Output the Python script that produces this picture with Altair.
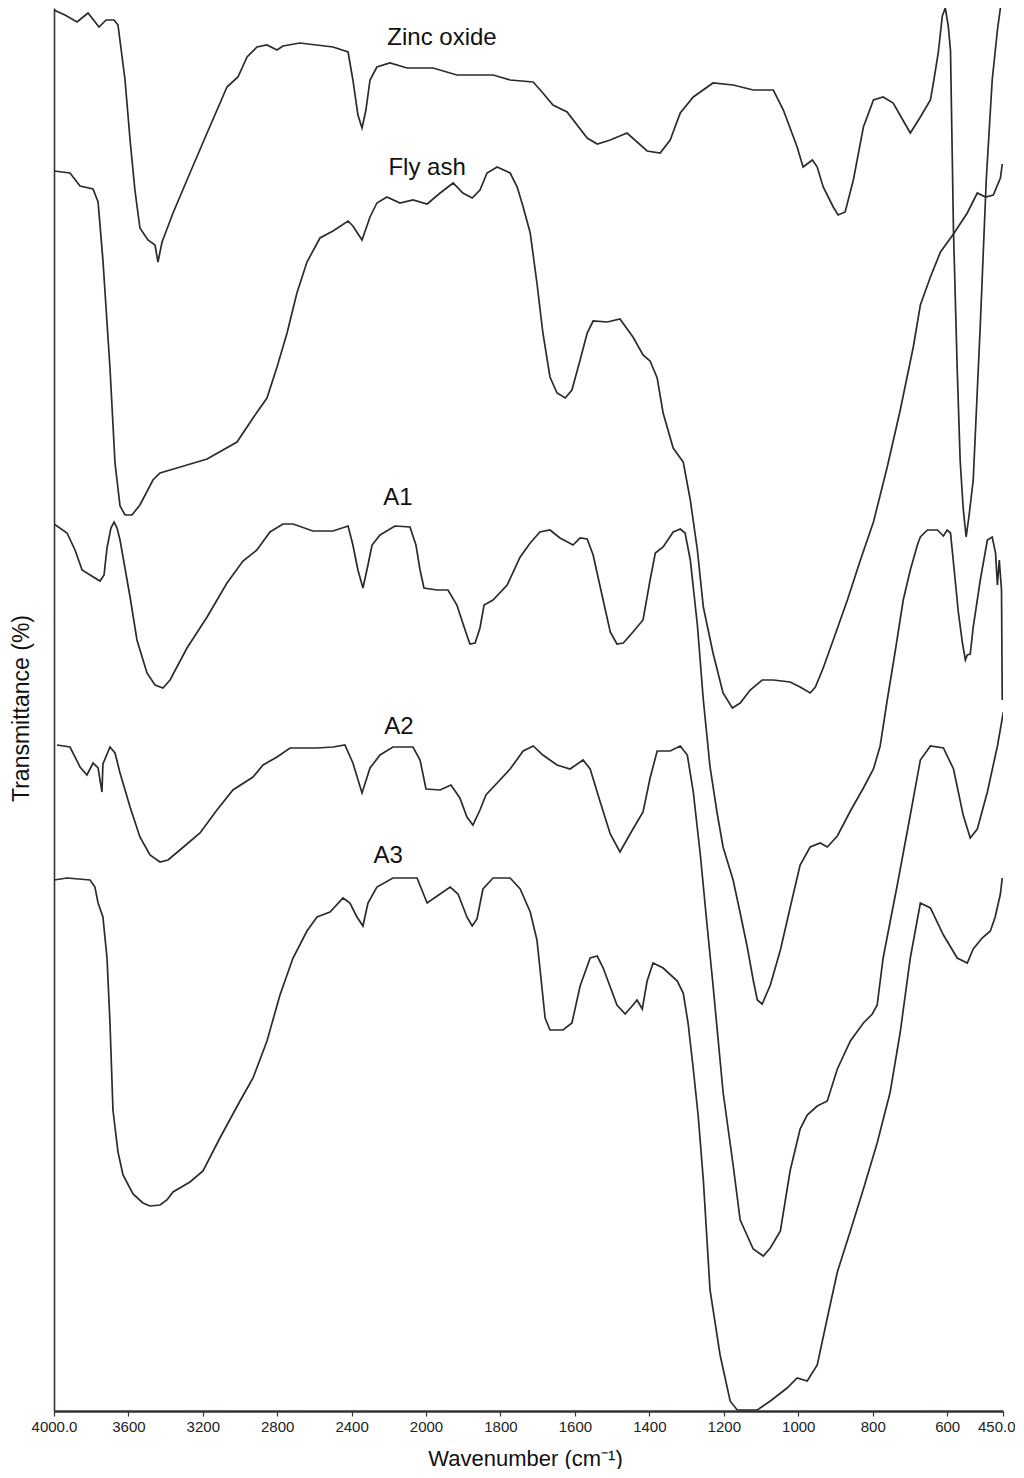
import altair as alt
import pandas as pd

# ---- data (wavenumber in cm-1, transmittance in arbitrary units) ----
zno_wn = [4000, 3941, 3876, 3817, 3758, 3720, 3677, 3656, 3618, 3591, 3565, 3538, 3495, 3457, 3441, 3419,
          3360, 3269, 3177, 3070, 3011, 2962, 2909, 2855, 2801, 2769, 2678, 2500, 2419, 2393, 2366, 2344,
          2323, 2301, 2264, 2194, 2102, 1981, 1917, 1820, 1774, 1712, 1686, 1659, 1621, 1567, 1540, 1505,
          1460, 1406, 1371, 1344, 1317, 1282, 1229, 1175, 1121, 1067, 1040, 1003, 987, 962, 949, 933, 906,
          893, 874, 852, 825, 798, 772, 745, 699, 672, 645, 637, 624, 613, 605, 597, 591, 583, 573, 565,
          557, 549, 541, 530, 511, 495, 479, 465, 454]
zno_t = [1401, 1396, 1389, 1398, 1384, 1391, 1391, 1386, 1331, 1271, 1221, 1183, 1171, 1166, 1149, 1169,
         1198, 1238, 1278, 1324, 1334, 1354, 1364, 1366, 1361, 1365, 1368, 1364, 1359, 1331, 1296, 1283,
         1301, 1331, 1344, 1348, 1343, 1343, 1336, 1336, 1331, 1329, 1318, 1306, 1299, 1273, 1267, 1271,
         1278, 1260, 1258, 1271, 1298, 1314, 1328, 1326, 1321, 1321, 1301, 1264, 1244, 1251, 1244, 1224, 1204,
         1196, 1199, 1231, 1284, 1311, 1314, 1308, 1278, 1294, 1311, 1328, 1358, 1395, 1403, 1385, 1360, 1180, 1042, 950,
         903, 874, 896, 931, 1086, 1231, 1331, 1381, 1411]

fly_wn = [4000, 3914, 3860, 3790, 3763, 3737, 3699, 3672, 3645, 3618, 3581, 3538, 3468, 3430, 3339, 3177,
          3016, 2930, 2855, 2801, 2747, 2694, 2640, 2570, 2500, 2419, 2393, 2344, 2301, 2264, 2210, 2140,
          2070, 1997, 1962, 1927, 1901, 1876, 1855, 1836, 1809, 1774, 1755, 1739, 1720, 1702, 1686, 1667,
          1648, 1626, 1608, 1586, 1567, 1551, 1513, 1479, 1444, 1417, 1398, 1379, 1363, 1336, 1309, 1290,
          1271, 1255, 1229, 1202, 1177, 1156, 1129, 1097, 1067, 1022, 995, 968, 954, 933, 906, 868, 833,
          798, 761, 726, 691, 672, 645, 618, 583, 546, 519, 497, 476, 457, 452]
fly_t = [1240, 1238, 1225, 1222, 1209, 1151, 1043, 948, 905, 896, 896, 906, 931, 938, 943, 952,
         969, 993, 1013, 1044, 1078, 1118, 1149, 1173, 1180, 1190, 1185, 1171, 1194, 1208, 1214, 1208,
         1211, 1207, 1218, 1228, 1218, 1213, 1221, 1238, 1244, 1238, 1224, 1204, 1178, 1128, 1078, 1034,
         1018, 1013, 1021, 1051, 1078, 1090, 1089, 1092, 1074, 1056, 1050, 1033, 998, 963, 949, 911,
         861, 804, 758, 718, 703, 708, 721, 731, 731, 729, 724, 718, 724, 743, 771, 811, 851,
         889, 944, 1001, 1064, 1106, 1134, 1159, 1177, 1198, 1218, 1214, 1216, 1233, 1247]

a1_wn = [4000, 3930, 3887, 3849, 3806, 3753, 3731, 3715, 3694, 3677, 3661, 3645, 3591, 3554, 3500, 3457,
         3414, 3376, 3285, 3177, 3070, 2984, 2909, 2839, 2769, 2715, 2608, 2500, 2419, 2393, 2366, 2339,
         2312, 2290, 2247, 2167, 2086, 2054, 2032, 2011, 1970, 1941, 1917, 1895, 1882, 1868, 1855, 1844,
         1820, 1782, 1747, 1720, 1694, 1667, 1640, 1605, 1586, 1567, 1551, 1532, 1505, 1487, 1470, 1444,
         1417, 1398, 1384, 1363, 1336, 1317, 1304, 1290, 1271, 1255, 1237, 1218, 1202, 1175, 1156, 1137,
         1121, 1110, 1097, 1075, 1048, 1022, 995, 968, 941, 922, 895, 860, 825, 798, 780, 761, 739, 718,
         699, 680, 672, 653, 626, 610, 600, 591, 583, 570, 559, 551, 546, 538, 530, 511, 492, 479, 470,
         465, 460, 454, 452]
a1_t = [887, 878, 861, 841, 836, 830, 836, 863, 883, 889, 883, 871, 814, 771, 738, 726,
        723, 731, 763, 794, 828, 850, 861, 879, 887, 887, 880, 880, 885, 866, 841, 823,
        846, 866, 876, 885, 884, 866, 841, 823, 821, 821, 806, 781, 767, 768, 783, 806,
        811, 826, 854, 868, 879, 881, 873, 866, 873, 872, 856, 824, 779, 767, 768, 779,
        791, 831, 858, 864, 879, 882, 878, 851, 786, 711, 644, 598, 564, 531, 498, 464,
        431, 411, 407, 426, 461, 503, 546, 564, 568, 564, 575, 600, 623, 642, 665, 711, 761, 811,
        841, 866, 874, 881, 881, 875, 881, 878, 848, 799, 768, 751, 756, 757, 784, 831, 871, 874, 858,
        826, 851, 821, 711]

a2_wn = [3984, 3914, 3860, 3823, 3790, 3763, 3742, 3737, 3699, 3672, 3645, 3591, 3538, 3484, 3430, 3387,
         3323, 3215, 3124, 3038, 2930, 2876, 2801, 2731, 2586, 2500, 2436, 2393, 2344, 2301, 2247, 2178,
         2070, 2032, 2000, 1962, 1933, 1909, 1890, 1874, 1855, 1839, 1809, 1774, 1739, 1712, 1686, 1648,
         1613, 1578, 1559, 1532, 1505, 1479, 1444, 1417, 1398, 1379, 1344, 1317, 1298, 1282, 1263, 1245,
         1229, 1202, 1175, 1156, 1121, 1094, 1075, 1048, 1022, 995, 976, 949, 922, 895, 860, 825, 801,
         788, 772, 734, 699, 672, 645, 610, 583, 557, 538, 519, 492, 465, 449]
a2_t = [666, 664, 644, 636, 648, 643, 619, 647, 664, 658, 638, 604, 574, 556, 549, 551,
        561, 578, 601, 621, 634, 646, 654, 663, 663, 664, 666, 648, 618, 643, 656, 664,
        664, 651, 622, 621, 626, 613, 594, 586, 601, 616, 628, 642, 660, 665, 656, 646,
        642, 651, 642, 609, 577, 559, 582, 599, 633, 660, 660, 665, 656, 619, 556, 486,
        426, 319, 246, 191, 162, 155, 163, 180, 240, 282, 296, 305, 310, 342, 370, 388, 397,
        406, 453, 526, 596, 651, 665, 663, 642, 596, 573, 582, 619, 665, 699]

a3_wn = [4000, 3930, 3806, 3780, 3763, 3737, 3715, 3699, 3683, 3656, 3629, 3575, 3522, 3484, 3430, 3393,
         3360, 3269, 3199, 3108, 3000, 2930, 2855, 2785, 2715, 2640, 2586, 2516, 2446, 2409, 2371, 2339,
         2312, 2264, 2178, 2048, 1997, 1970, 1935, 1914, 1890, 1876, 1863, 1847, 1820, 1774, 1747, 1720,
         1702, 1694, 1680, 1667, 1632, 1608, 1586, 1559, 1540, 1524, 1487, 1465, 1444, 1433, 1419, 1406,
         1390, 1363, 1325, 1309, 1296, 1282, 1269, 1255, 1237, 1210, 1183, 1164, 1110, 1075, 1030, 1003,
         976, 949, 922, 895, 860, 825, 788, 753, 726, 699, 672, 645, 610, 573, 546, 530, 506, 484, 471,
         457, 452]
a3_t = [531, 533, 531, 524, 508, 494, 453, 388, 301, 259, 236, 217, 208, 205, 206, 211,
        219, 229, 240, 273, 310, 333, 370, 416, 453, 480, 494, 499, 513, 508, 494, 485,
        508, 524, 533, 533, 508, 515, 524, 517, 494, 485, 492, 522, 533, 533, 522, 499,
        471, 443, 393, 381, 381, 388, 425, 453, 455, 443, 406, 397, 406, 411, 402, 430,
        448, 443, 430, 418, 388, 342, 296, 231, 121, 56, 10, 1, 1, 10, 23, 33,
        30, 46, 93, 139, 180, 222, 268, 319, 379, 453, 508, 503, 476, 453, 448, 462, 473, 480, 494,
        517, 533]

series_names = ["Zinc oxide", "Fly ash", "A1", "A2", "A3"]
series_wn = [zno_wn, fly_wn, a1_wn, a2_wn, a3_wn]
series_t = [zno_t, fly_t, a1_t, a2_t, a3_t]

label_text = ["Zinc oxide", "Fly ash", "A1", "A2", "A3"]
label_wn = [1957, 1997, 2151, 2145, 2204]
label_t = [1373, 1243, 913, 684, 555]

tick_values = [4000, 3600, 3200, 2800, 2400, 2000, 1800, 1600, 1400, 1200, 1000, 800, 600, 450]

rows = []
for name, wn, tt in zip(series_names, series_wn, series_t):
    for i, (w, v) in enumerate(zip(wn, tt)):
        rows.append({"series": name, "wn": w, "t": v, "idx": i})
df = pd.DataFrame(rows)
lab_df = pd.DataFrame({"label": label_text, "wn": label_wn, "t": label_t})

x_scale = alt.Scale(type="linear", domain=[4000, 2000, 450], range=[0, 372, 949], nice=False, zero=False)
y_scale = alt.Scale(domain=[0, 1403], nice=False, zero=False)

x_enc = alt.X(
    "wn:Q", scale=x_scale,
    axis=alt.Axis(
        values=tick_values,
        labelExpr="datum.value == 4000 || datum.value == 450 ? format(datum.value, '.1f') : format(datum.value, 'd')",
        title="Wavenumber (cm\u207b\u00b9)",
        grid=False, labelFlush=False, labelOverlap=False,
        labelAlign={"condition": {"test": "datum.value == 450", "value": "right"}, "value": "center"},
        labelOffset={"condition": {"test": "datum.value == 450", "value": 12}, "value": 0},
        domainColor="#333333", domainWidth=2.5,
        tickColor="#333333", tickWidth=1.2, tickSize=5,
        labelFont="Liberation Sans Narrow, Liberation Sans", labelFontSize=15, labelColor="#222222",
        labelPadding=3,
        titleFont="Liberation Sans", titleFontSize=22, titleFontWeight="normal", titleColor="#111111",
        titleX=471, titleY=47, titleBaseline="middle", titleAnchor="middle",
    ),
)
y_enc = alt.Y(
    "t:Q", scale=y_scale,
    axis=alt.Axis(
        ticks=False, labels=False, grid=False,
        domainColor="#333333", domainWidth=1.6,
        title="Transmittance (%)",
        titleFont="Liberation Sans", titleFontSize=23, titleFontWeight="normal", titleColor="#111111",
        titleAngle=270, titleX=-33, titleY=700, titleBaseline="middle", titleAlign="center",
    ),
)

lines = alt.Chart(df).mark_line(color="#2b2b2b", strokeWidth=1.7, clip=True).encode(
    x=x_enc, y=y_enc, detail="series:N", order="idx:Q"
)
labels = alt.Chart(lab_df).mark_text(
    font="Liberation Sans", fontSize=24, color="#111111", align="center", baseline="middle"
).encode(x=x_enc, y=y_enc, text="label:N")

chart = alt.layer(lines, labels).properties(
    width=949, height=1403,
    autosize=alt.AutoSizeParams(type="none"),
    padding={"left": 46, "top": 0, "right": 12, "bottom": 58},
).configure_view(stroke=None)

chart.save("out.html", embed_options={"renderer": "svg", "actions": False})
